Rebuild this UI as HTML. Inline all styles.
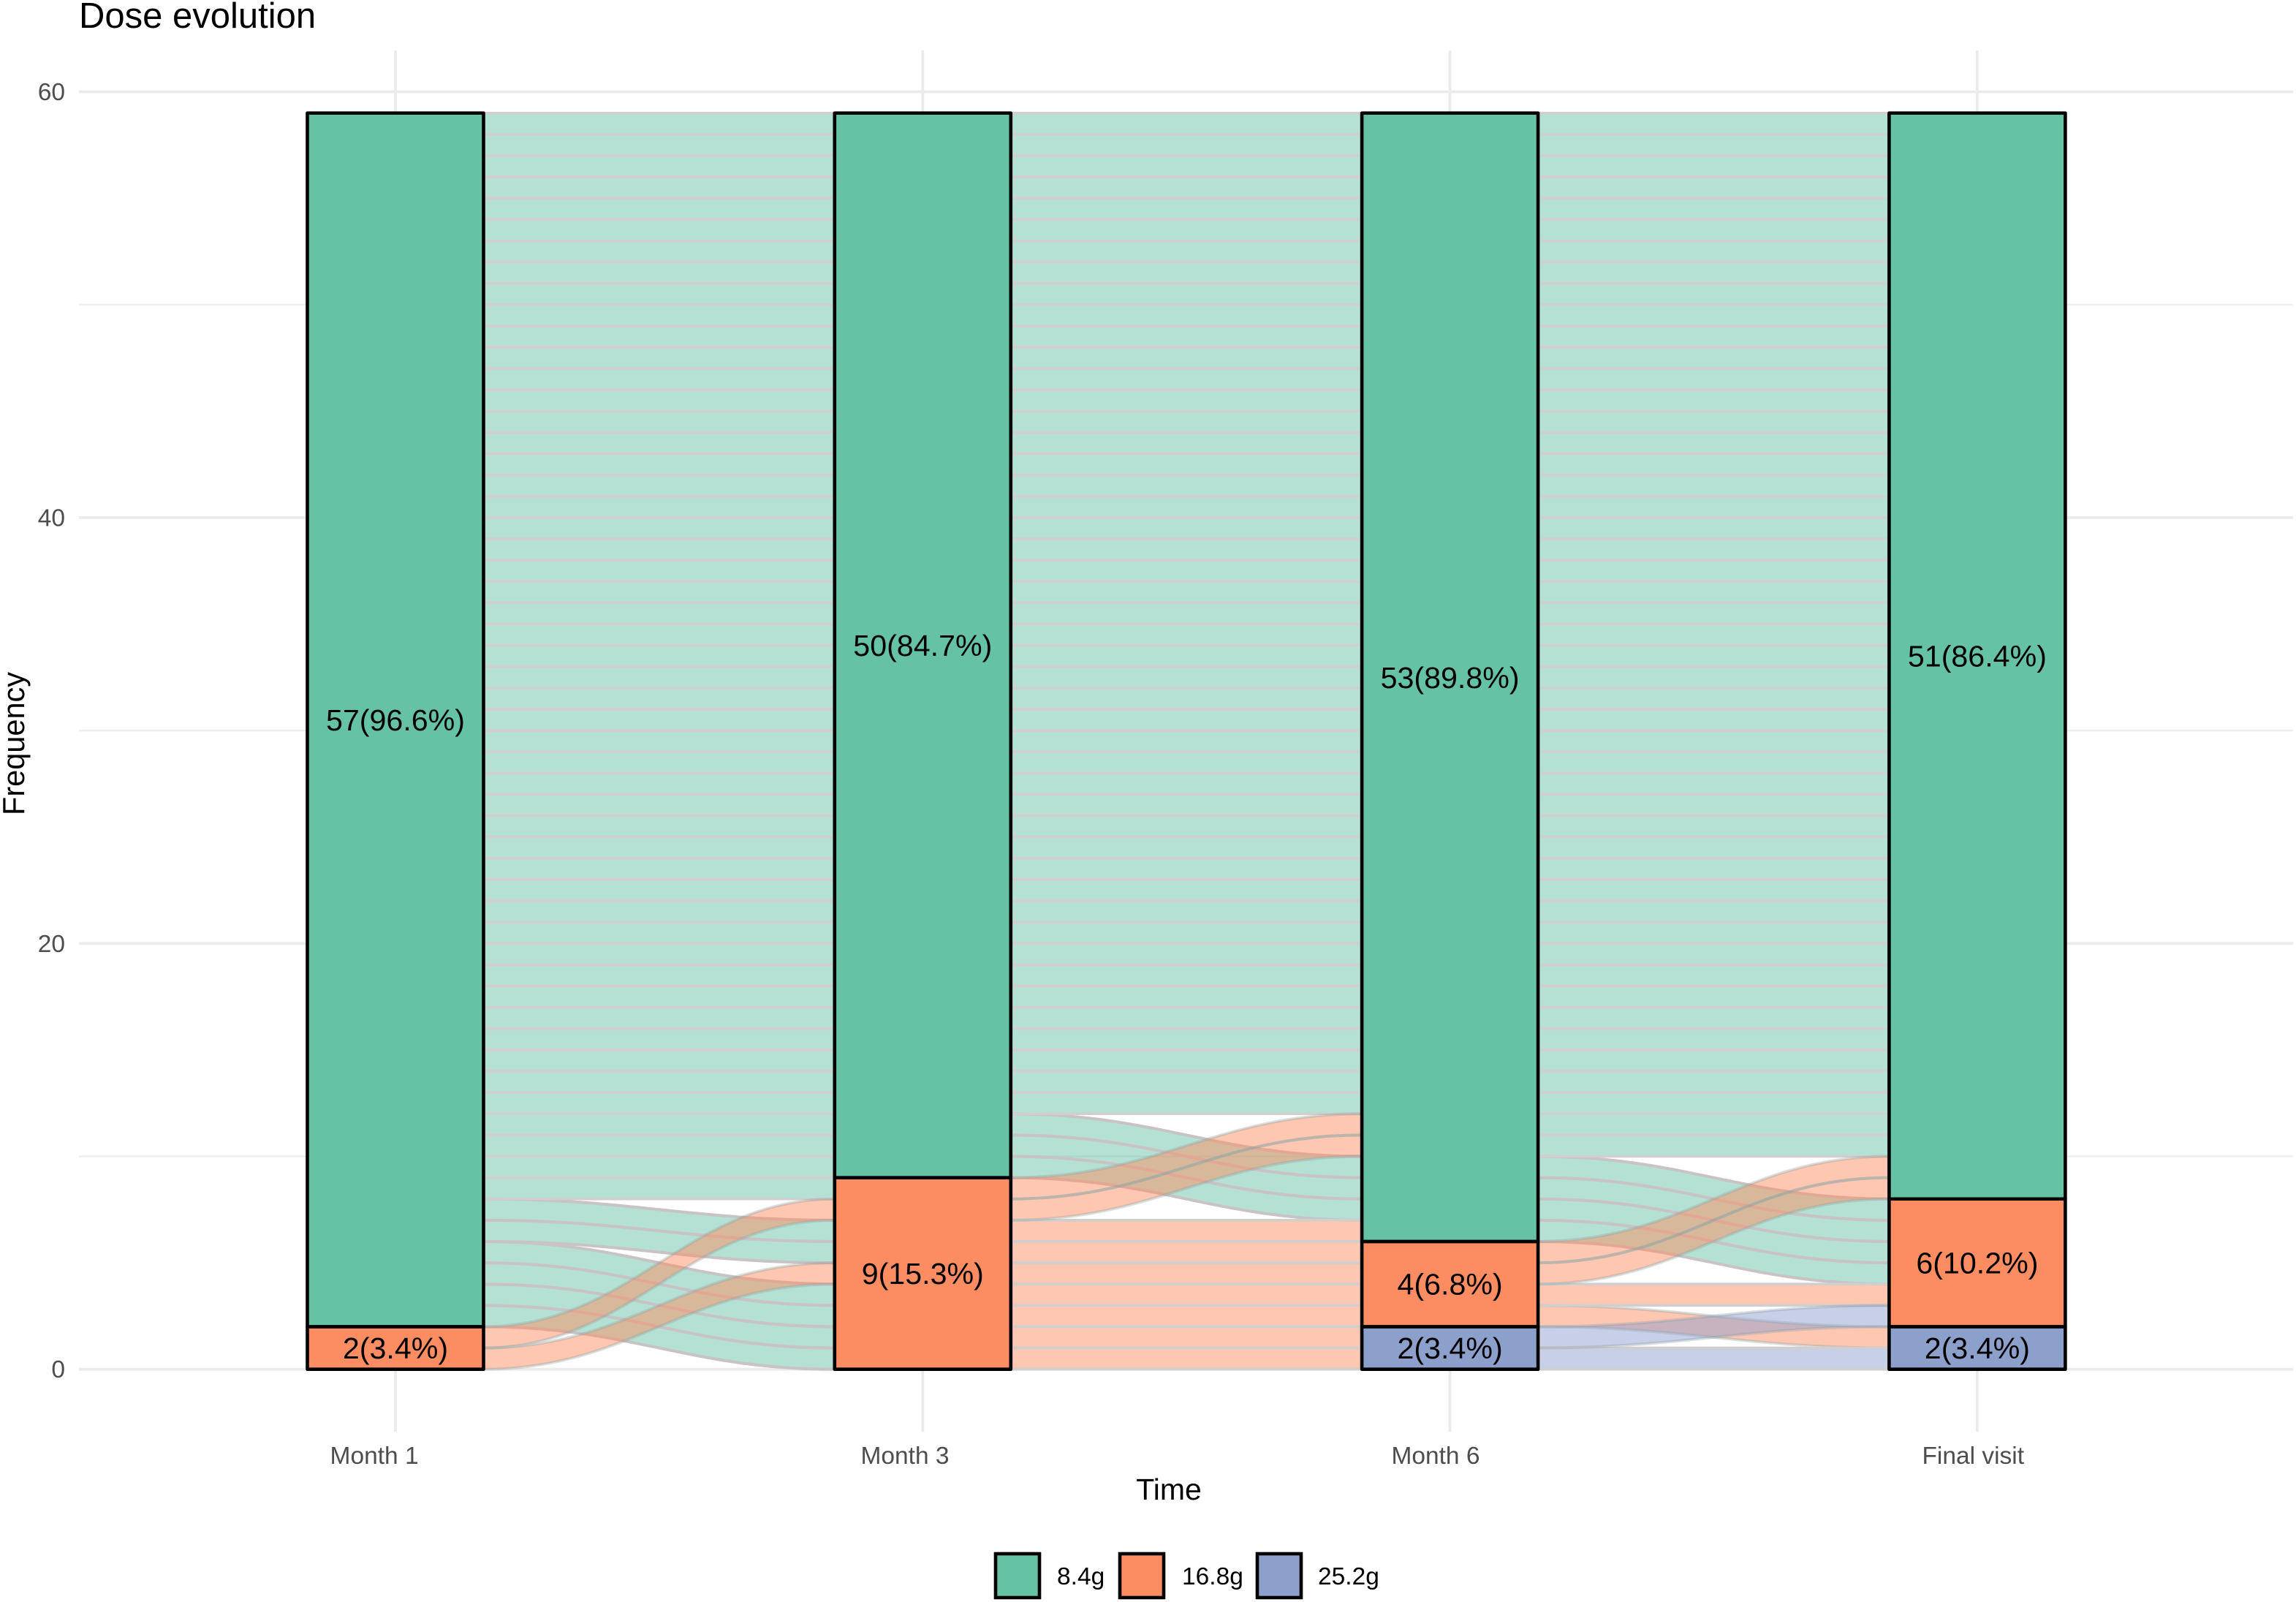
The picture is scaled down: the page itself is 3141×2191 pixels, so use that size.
<!DOCTYPE html>
<html lang="en">
<head>
<meta charset="utf-8">
<title>Dose evolution</title>
<style>
  html, body { margin: 0; padding: 0; background: #ffffff; }
  svg { display: block; font-family: "Liberation Sans", sans-serif; }
</style>
</head>
<body>
<svg id="chart" xmlns="http://www.w3.org/2000/svg" width="3141" height="2191" viewBox="0 0 3141 2191">
  <rect x="0" y="0" width="3141" height="2191" fill="#ffffff"/>
  <text x="108" y="38" font-size="49" fill="#000000">Dose evolution</text>
  <g id="grid"></g>
  <g id="flows"></g>
  <g id="bars"></g>
  <g id="ticks"></g>
  <text x="1599" y="2051" font-size="41" text-anchor="middle" fill="#000000">Time</text>
  <text transform="translate(33,1017) rotate(-90)" font-size="41.5" text-anchor="middle" fill="#000000">Frequency</text>
  <g>
    <rect x="1362" y="2125" width="60" height="60" fill="#66c2a5" stroke="#000000" stroke-width="4.6"/>
    <text x="1446" y="2167" font-size="33.5" fill="#000000">8.4g</text>
    <rect x="1532" y="2125" width="60" height="60" fill="#fc8d62" stroke="#000000" stroke-width="4.6"/>
    <text x="1617" y="2167" font-size="33.5" fill="#000000">16.8g</text>
    <rect x="1720" y="2125" width="60" height="60" fill="#8da0cb" stroke="#000000" stroke-width="4.6"/>
    <text x="1803" y="2167" font-size="33.5" fill="#000000">25.2g</text>
  </g>
</svg>
<script>
const categories = ['Month 1\u00a0\u00a0\u00a0\u00a0\u00a0\u00a0', 'Month 3\u00a0\u00a0\u00a0\u00a0\u00a0', 'Month 6\u00a0\u00a0\u00a0\u00a0', 'Final visit\u00a0'];
const yTicks = [0, 20, 40, 60];
const yMinorTicks = [10, 30, 50];
const counts8g = [57, 50, 53, 51];
const counts16g = [2, 9, 4, 6];
const counts25g = [0, 0, 2, 2];
const gap1Targets = [4,7,0,1,2,3,5,6,8,9,10,11,12,13,14,15,16,17,18,19,20,21,22,23,24,25,26,27,28,29,30,31,32,33,34,35,36,37,38,39,40,41,42,43,44,45,46,47,48,49,50,51,52,53,54,55,56,57,58];
const gap2Targets = [0,1,2,3,4,5,6,10,11,7,8,9,12,13,14,15,16,17,18,19,20,21,22,23,24,25,26,27,28,29,30,31,32,33,34,35,36,37,38,39,40,41,42,43,44,45,46,47,48,49,50,51,52,53,54,55,56,57,58];
const gap3Targets = [0,2,1,3,8,9,4,5,6,7,10,11,12,13,14,15,16,17,18,19,20,21,22,23,24,25,26,27,28,29,30,31,32,33,34,35,36,37,38,39,40,41,42,43,44,45,46,47,48,49,50,51,52,53,54,55,56,57,58];

const gapTargets = [gap1Targets, gap2Targets, gap3Targets];
const NS = 'http://www.w3.org/2000/svg';
const BAR_HALF = 120.5;
const xScale = i => 541 + i * 721.3;
const yScale = v => 1872.7 - v * 29.12;
const FILLS = { g8: '#66c2a5', g16: '#fc8d62', g25: '#8da0cb' };
const CURVE_STROKES = { g8: '#c8c3c5', g16: 'rgba(145,165,165,0.36)', g25: 'rgba(145,160,175,0.36)' };
const STRAIGHT_STROKE = '#d0cece';

function make(tag, parent) {
  const el = document.createElementNS(NS, tag);
  parent.appendChild(el);
  return el;
}

/* gridlines */
const gridG = document.getElementById('grid');
yMinorTicks.forEach(v => {
  const l = make('line', gridG);
  
  
  l.setAttribute('x1', 108); l.setAttribute('x2', 3137);
  l.setAttribute('y1', yScale(v)); l.setAttribute('y2', yScale(v));
  l.setAttribute('stroke', '#eeeeee'); l.setAttribute('stroke-width', 2.4);
});
yTicks.forEach(v => {
  const l = make('line', gridG);
  
  
  l.setAttribute('x1', 108); l.setAttribute('x2', 3137);
  l.setAttribute('y1', yScale(v)); l.setAttribute('y2', yScale(v));
  l.setAttribute('stroke', '#ebebeb'); l.setAttribute('stroke-width', 3.8);
});
categories.forEach((c, i) => {
  const l = make('line', gridG);
  
  
  l.setAttribute('x1', xScale(i)); l.setAttribute('x2', xScale(i));
  l.setAttribute('y1', 69); l.setAttribute('y2', 1958);
  l.setAttribute('stroke', '#ebebeb'); l.setAttribute('stroke-width', 3.8);
});

/* flows */
function doseAt(col, pos) {
  if (pos < counts25g[col]) return 'g25';
  if (pos < counts25g[col] + counts16g[col]) return 'g16';
  return 'g8';
}
function edge(x0, y0, x1, y1) {
  const c = (x1 - x0) * 0.42;
  return `C${x0 + c},${y0} ${x1 - c},${y1} ${x1},${y1}`;
}
const flowsG = document.getElementById('flows');
['g8', 'g16', 'g25'].forEach(dose => {
  const fillLayer = make('g', flowsG);
  
  
  const lineLayer = make('g', flowsG);
  
  
  gapTargets.forEach((targets, gap) => {
    const x0 = xScale(gap) + BAR_HALF;
    const x1 = xScale(gap + 1) - BAR_HALF;
    targets.forEach((target, pos) => {
      if (doseAt(gap, pos) !== dose) return;
      const y0b = yScale(pos), y0t = yScale(pos + 1);
      const y1b = yScale(target), y1t = yScale(target + 1);
      const ribbon = make('path', fillLayer);
      
      
      ribbon.setAttribute('d', `M${x0},${y0t} ${edge(x0, y0t, x1, y1t)} L${x1},${y1b} ${edge(x1, y1b, x0, y0b)} Z`);
      ribbon.setAttribute('fill', FILLS[dose]);
      ribbon.setAttribute('fill-opacity', 0.49);
      const straight = pos === target;
      [[y0t, y1t], [y0b, y1b]].forEach(pair => {
        const line = make('path', lineLayer);
        
        
        line.setAttribute('d', `M${x0},${pair[0]} ${edge(x0, pair[0], x1, pair[1])}`);
        line.setAttribute('fill', 'none');
        line.setAttribute('stroke', straight ? STRAIGHT_STROKE : CURVE_STROKES[dose]);
        line.setAttribute('stroke-width', straight ? 3.6 : 4);
      });
    });
  });
});

/* bars and labels */
const barsG = document.getElementById('bars');
categories.forEach((c, i) => {
  const total = counts25g[i] + counts16g[i] + counts8g[i];
  const segments = [
    { key: 'g25', n: counts25g[i], start: 0 },
    { key: 'g16', n: counts16g[i], start: counts25g[i] },
    { key: 'g8', n: counts8g[i], start: counts25g[i] + counts16g[i] }
  ];
  segments.forEach(s => {
    if (s.n === 0) return;
    const r = make('rect', barsG);
    
    
    r.setAttribute('x', xScale(i) - BAR_HALF);
    r.setAttribute('width', BAR_HALF * 2);
    r.setAttribute('y', yScale(s.start + s.n));
    r.setAttribute('height', yScale(s.start) - yScale(s.start + s.n));
    r.setAttribute('fill', FILLS[s.key]);
    r.setAttribute('stroke', '#000000');
    r.setAttribute('stroke-width', 4.6);
    r.setAttribute('stroke-linejoin', 'round');
  });
  segments.forEach(s => {
    if (s.n === 0) return;
    const t = make('text', barsG);
    
    
    t.setAttribute('x', xScale(i));
    t.setAttribute('y', yScale(s.start + s.n / 2) + 14.5);
    t.setAttribute('font-size', 41.2);
    t.setAttribute('text-anchor', 'middle');
    t.setAttribute('fill', '#000000');
    t.textContent = s.n + '(' + (s.n / total * 100).toFixed(1) + '%)';
  });
});

/* tick labels */
const ticksG = document.getElementById('ticks');
yTicks.forEach(v => {
  const t = make('text', ticksG);
  
  
  t.setAttribute('x', 89);
  t.setAttribute('y', yScale(v) + 11.5);
  t.setAttribute('font-size', 33.5);
  t.setAttribute('text-anchor', 'end');
  t.setAttribute('fill', '#4d4d4d');
  t.textContent = String(v);
});
categories.forEach((c, i) => {
  const t = make('text', ticksG);
  
  
  t.setAttribute('x', xScale(i) - 1);
  t.setAttribute('y', 2002);
  t.setAttribute('font-size', 33.5);
  t.setAttribute('text-anchor', 'middle');
  t.setAttribute('fill', '#4d4d4d');
  t.textContent = c;
});
</script>
</body>
</html>
